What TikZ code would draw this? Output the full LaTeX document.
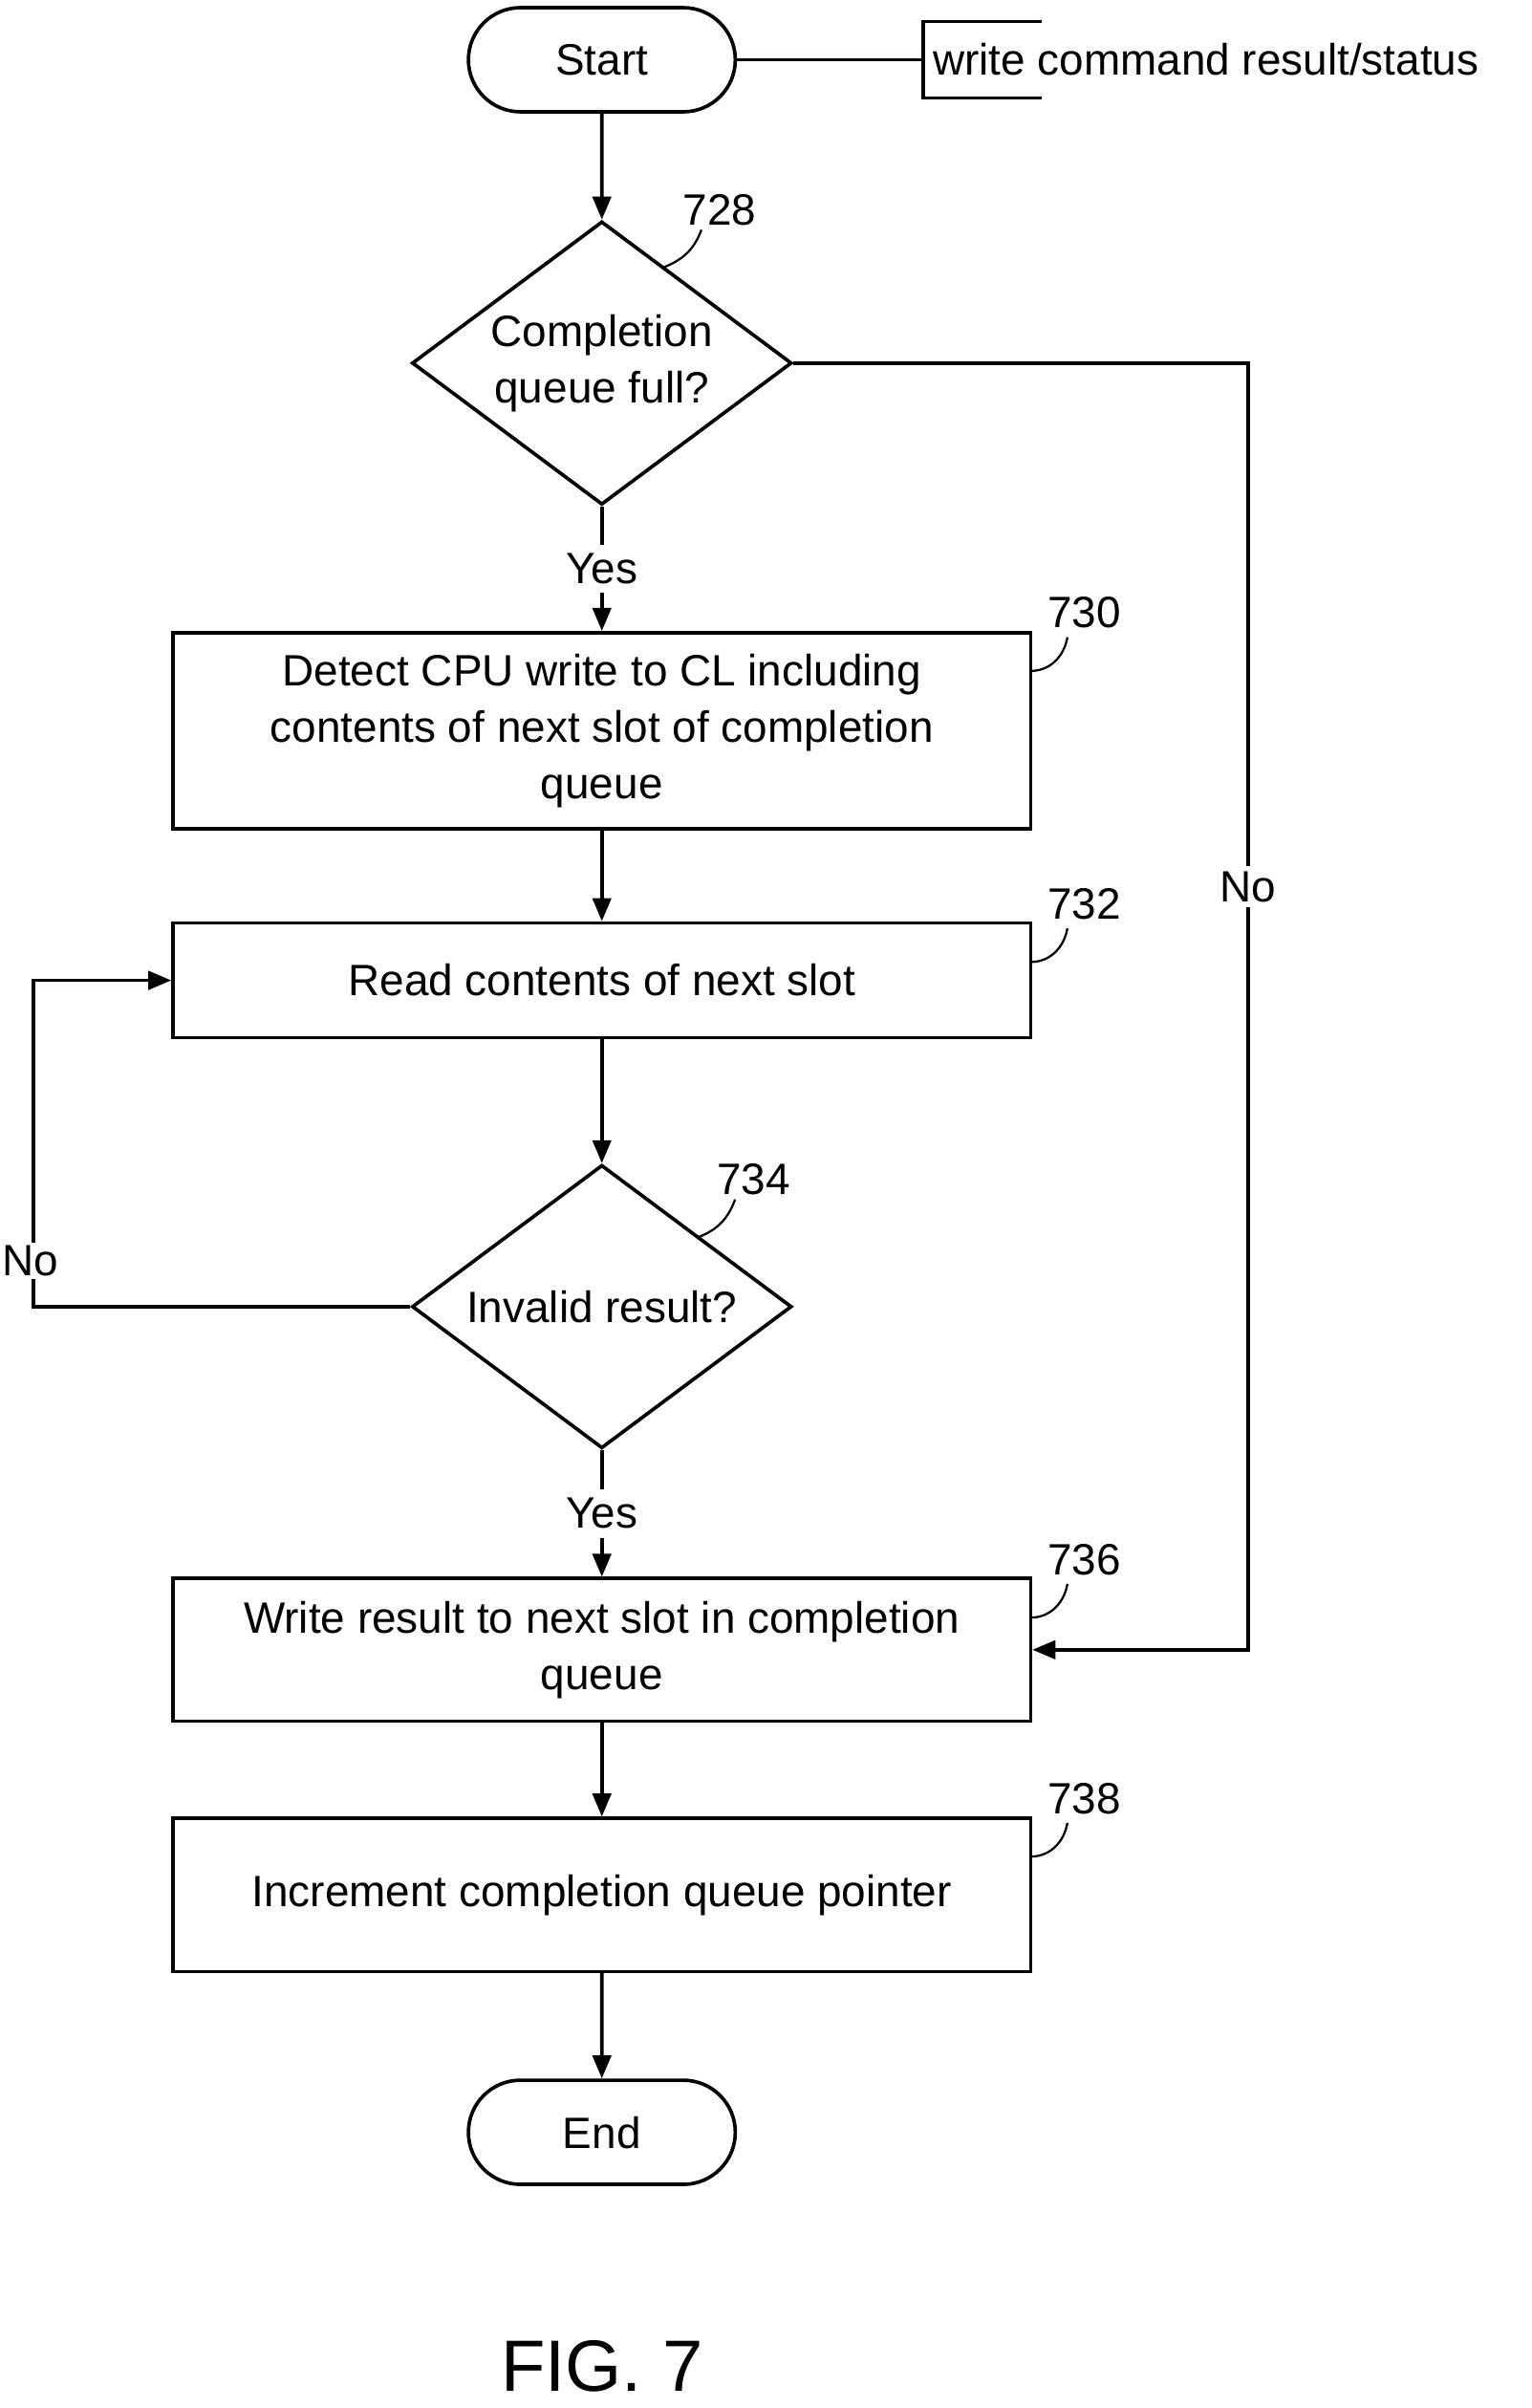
\documentclass[tikz,border=0pt]{standalone}
\usepackage{fontspec}
\setmainfont{Liberation Sans}
\usetikzlibrary{shapes.geometric,shapes.misc,arrows.meta}
\begin{document}
\begin{tikzpicture}
		[x=0.2mm,y=-0.2mm,
		font=\fontsize{16.3}{21}\selectfont,
		line width=1.3pt,
		arr/.style={-{Triangle[length=3mm,width=2.4mm]}},
		term/.style={draw,rounded rectangle,minimum width=3.72cm,minimum height=1.36cm},
		proc/.style={draw,minimum width=11.2cm,align=center},
		test/.style={draw,diamond,aspect=1.34,inner sep=0pt,minimum width=4.96cm,minimum height=3.7cm,align=center},
		ref/.style={font=\fontsize{16.3}{21}\selectfont}]
		\useasboundingbox (0,0) rectangle (1000,1572);
		% terminals
		\node[term] (start) at (393,39) {Start};
		\node[term] (end) at (393,1392) {End};
		% decisions
		\node[test] (full) at (393,237) {Completion\\queue full?};
		\node[test] (valid) at (393,853) {Invalid result?};
		% steps
		\node[proc,minimum height=2.56cm] (detect) at (393,477) {Detect CPU write to CL including\\contents of next slot of completion\\queue};
		\node[proc,minimum height=1.5cm] (read) at (393,640) {Read contents of next slot};
		\node[proc,minimum height=1.86cm] (write) at (393,1077) {Write result to next slot in completion\\queue};
		\node[proc,minimum height=2cm] (incr) at (393,1237) {Increment completion queue pointer};
		% annotation
		\coordinate (br) at (603,39);
		\draw (start.east) -- (br);
		\draw (680,14) -- (603,14) -- (603,64) -- (680,64);
		\node[anchor=west,inner sep=0pt] (note) at (608,39) {write command result/status};
		% flow
		\draw[arr] (start) -- (full);
		\draw[arr] (full) -- node[fill=white] {Yes} (detect);
		\draw[arr] (detect) -- (read);
		\draw[arr] (read) -- (valid);
		\draw[arr] (valid) -- node[fill=white] {Yes} (write);
		\draw[arr] (write) -- (incr);
		\draw[arr] (incr) -- (end);
		\draw[arr] (full.east) -- (815,237) -- (815,1077) -- (write.east);
		\node[fill=white,inner sep=2pt] (no1) at (815,579) {No};
		\draw[arr] (valid.west) -- (22,853) -- (22,640) -- (read.west);
		\node[fill=white,inner sep=1pt] (no2) at (20,823) {No};
		% reference numbers
		\draw[line width=0.8pt] (432,175) to[out=20,in=-110] (458,150);
		\node[ref] (n728) at (470,137) {728};
		\foreach \nm/\num/\yy in {detect/730/413,read/732/603,write/736/1031,incr/738/1187}{
			\draw[line width=0.8pt] (673,\yy+25) to[out=0,in=-100] (697,\yy+3);
			\node[ref] at (708,\yy-13) {\num};
		}
		\draw[line width=0.8pt] (455,808) to[out=20,in=-110] (480,783);
		\node[ref] (n734) at (492,770) {734};
		\node[font=\fontsize{27}{32}\selectfont] (fig) at (393,1545) {FIG. 7};
	\end{tikzpicture}
\end{document}
